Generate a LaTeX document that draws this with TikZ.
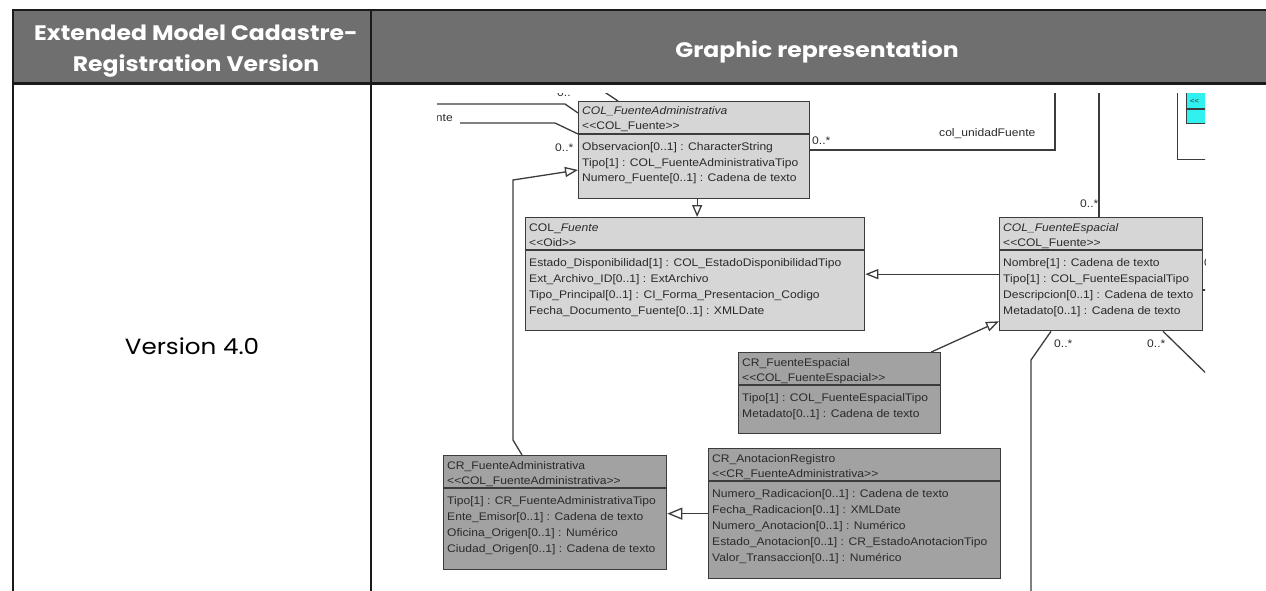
\documentclass[tikz,border=0pt]{standalone}
\usepackage{fontspec}
\setmainfont{Poppins}[FakeStretch=1.12]
\newfontfamily\umlfont[FakeStretch=1.1]{Liberation Sans}
\usetikzlibrary{arrows.meta,calc}

\definecolor{headgray}{HTML}{6F6F6F}
\definecolor{rulecol}{HTML}{1A1A1A}
\definecolor{colfill}{HTML}{D6D6D6}
\definecolor{crfill}{HTML}{A2A2A2}
\definecolor{umlline}{HTML}{3C3C3C}
\definecolor{umlink}{HTML}{2A2A2A}
\definecolor{cyanfill}{HTML}{30F0F0}

\tikzset{
  classbox/.style={draw=umlline, line width=1.3pt, anchor=north west, inner sep=0pt, rectangle},
  umltext/.style={font=\umlfont\fontsize{11}{13}\selectfont, text=umlink, anchor=base west, inner sep=0pt},
  link/.style={draw=umlline, line width=1.3pt},
  gen/.style={link, -{Triangle[fill=white, length=13pt, width=10pt]}},
  headtext/.style={text=white, font=\bfseries\fontsize{21}{31}\selectfont, align=center, inner sep=0pt},
  bodytext/.style={text=black, font=\fontsize{22}{24}\selectfont, inner sep=0pt},
  tablerule/.style={draw=rulecol, line width=2.2pt},
}

\newcommand\stereo[1]{\textless\kern0pt\textless#1\textgreater\kern0pt\textgreater}

% class box: name, x, y, width, height, fill, title, stereotype
\newcommand\umlclass[8]{%
  \node[classbox, fill=#6, minimum width=#4pt, minimum height=#5pt] (#1) at (#2,#3) {};
  \draw[link] ([yshift=-33pt]#1.north west) -- ([yshift=-33pt]#1.north east);
  \node[umltext] (#1-title) at ($(#1.north west)+(4,14)$) {#7};
  \node[umltext] (#1-stereo) at ($(#1.north west)+(4,29)$) {\stereo{#8}};
}
% attribute rows of a class box
\newcommand\umlattrs[2]{%
  \foreach \attr [count=\i] in {#2} {
    \node[umltext] (#1-a\i) at ($(#1.north west)+(4,{33+16*\i})$) {\attr};
  }
}

\begin{document}
\begin{tikzpicture}[x=1pt, y=-1pt]
\useasboundingbox (0,0) rectangle (1266,591);

% table header and rules
\fill[headgray] (13,10) rectangle (1266,84);
\draw[tablerule] (13,10) -- (1266,10);
\draw[tablerule, line width=3pt] (13,84) -- (1266,84);
\draw[tablerule] (13,9) -- (13,591);
\draw[tablerule] (371,9) -- (371,591);

\node[headtext] (hleft) at (196,51) {Extended Model Cadastre-\\Registration Version};
\node[headtext] (hright) at (817,52) {Graphic representation};
\node[bodytext] (version) at (192,346) {Version 4.0};

% class diagram
\begin{scope}
\clip (437,94) rectangle (1205,591);

\umlclass{fa}{578}{101}{231}{97}{colfill}{\textit{COL\_FuenteAdministrativa}}{COL\_Fuente}
\umlattrs{fa}{{Observacion[0..1] : CharacterString},{Tipo[1] : COL\_FuenteAdministrativaTipo},{Numero\_Fuente[0..1] : Cadena de texto}}

\umlclass{fuente}{525}{217}{339}{113}{colfill}{COL\_\textit{Fuente}}{Oid}
\umlattrs{fuente}{{Estado\_Disponibilidad[1] : COL\_EstadoDisponibilidadTipo},{Ext\_Archivo\_ID[0..1] : ExtArchivo},{Tipo\_Principal[0..1] : CI\_Forma\_Presentacion\_Codigo},{Fecha\_Documento\_Fuente[0..1] : XMLDate}}

\umlclass{esp}{999}{217}{203}{113}{colfill}{\textit{COL\_FuenteEspacial}}{COL\_Fuente}
\umlattrs{esp}{{Nombre[1] : Cadena de texto},{Tipo[1] : COL\_FuenteEspacialTipo},{Descripcion[0..1] : Cadena de texto},{Metadato[0..1] : Cadena de texto}}

\umlclass{crfe}{738}{352}{202}{81}{crfill}{CR\_FuenteEspacial}{COL\_FuenteEspacial}
\umlattrs{crfe}{{Tipo[1] : COL\_FuenteEspacialTipo},{Metadato[0..1] : Cadena de texto}}

\umlclass{crfa}{443}{455}{223}{114}{crfill}{CR\_FuenteAdministrativa}{COL\_FuenteAdministrativa}
\umlattrs{crfa}{{Tipo[1] : CR\_FuenteAdministrativaTipo},{Ente\_Emisor[0..1] : Cadena de texto},{Oficina\_Origen[0..1] : Numérico},{Ciudad\_Origen[0..1] : Cadena de texto}}

\umlclass{ar}{708}{448}{292}{130}{crfill}{CR\_AnotacionRegistro}{CR\_FuenteAdministrativa}
\umlattrs{ar}{{Numero\_Radicacion[0..1] : Cadena de texto},{Fecha\_Radicacion[0..1] : XMLDate},{Numero\_Anotacion[0..1] : Numérico},{Estado\_Anotacion[0..1] : CR\_EstadoAnotacionTipo},{Valor\_Transaccion[0..1] : Numérico}}

% classes cut by the frame at the top right
\node[classbox, fill=white, anchor=south west, minimum width=60pt, minimum height=90pt] (outer) at (1177,160) {};
\node[classbox, fill=cyanfill, minimum width=40pt, minimum height=43pt] (cyanbox) at (1186,80) {};
\draw[link] (cyanbox.west |- 0,109) -- (cyanbox.east |- 0,109);
\node[umltext, font=\umlfont\fontsize{7}{8}\selectfont] (cyanst) at (1190,104) {\textless\kern0pt\textless};

% associations
\coordinate (l1a) at (430,104);
\coordinate (l1b) at (565,104);
\draw[link] (l1a) -- (l1b) -- ([yshift=-12pt]fa.north west);

\coordinate (l2a) at (460,123);
\coordinate (l2b) at (555,123);
\draw[link] (l2a) -- (l2b) -- ([yshift=-33pt]fa.north west);
\node[umltext, anchor=base east] (l2name) at (453,122) {Fuente};
\node[umltext] (l2mult) at (555,152) {0..*};

\coordinate (l3a) at (603,91);
\draw[link] (l3a) -- ([xshift=40pt]fa.north west);
\node[umltext] (l3mult) at (557,97) {0..*};

\coordinate (l4) at (1055,90);
\draw[link] ([yshift=-49pt]fa.north east) -| (l4);
\node[umltext] (l4mult) at (812,145) {0..*};
\node[umltext] (l4name) at (939,137) {col\_unidadFuente};

\coordinate (l5) at (1099,90);
\draw[link] (l5) -- (l5 |- esp.north);
\node[umltext] (l5mult) at (1080,207) {0..*};

\coordinate (b3) at (1031,360);
\coordinate (b4) at (1031,595);
\draw[link] ([xshift=52pt]esp.south west) -- (b3) -- (b4);
\node[umltext] (b3mult) at (1054,347) {0..*};

\coordinate (b5) at (1215,382);
\draw[link] ([xshift=164pt]esp.south west) -- (b5);
\node[umltext] (b5mult) at (1147,347) {0..*};

\node[umltext] (edgemult) at (1204,266) {0..*};
\draw[link] ([yshift=-73pt]esp.north east) -- ++(8,0);

% generalizations
\draw[gen] (esp.west) -- (esp.west -| fuente.east);
\draw[gen, -{Triangle[fill=white, length=12pt, width=10pt]}] ([xshift=3pt]fa.south) -- ([xshift=3pt]fa.south |- fuente.north);
\draw[gen] ([xshift=-10pt]crfe.north east) -- ([yshift=10pt]esp.south west);
\draw[gen, -{Triangle[fill=white, length=15pt, width=12pt]}] (ar.west) -- (ar.west -| crfa.east);
\coordinate (b1) at (513,440);
\coordinate (b2) at (513,180);
\draw[gen] ([xshift=79pt]crfa.north west) -- (b1) -- (b2) -- ([yshift=-69pt]fa.north west);
\end{scope}
\end{tikzpicture}
\end{document}
